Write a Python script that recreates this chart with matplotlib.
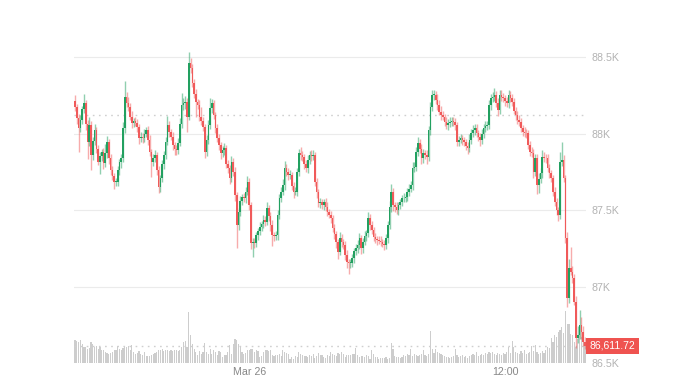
import numpy as np
import pandas as pd
import matplotlib
matplotlib.use("Agg")
import matplotlib.pyplot as plt
import matplotlib.transforms as mtransforms

# 5 minute candles, Mar 25 15:50 -> Mar 26 15:45
times = pd.date_range("2025-03-25 15:50", periods=288, freq="5min")

first_open = 88210
closes = [
    88175, 88100, 88036, 88090, 88160, 88200, 88060, 87946, 88056, 87860, 87950, 88023, 87900, 87816, 87850, 87881, 87805, 87870, 87946, 87838, 87760, 87720, 87685, 87685,
    87760, 87816, 87838, 88034, 88240, 88200, 88175, 88110, 88069, 88080, 88069, 88040, 87969, 87980, 87969, 88000, 88023, 87957, 87880, 87816, 87840, 87860, 87760, 87650,
    87709, 87800, 87860, 87946, 88056, 88010, 87980, 87925, 87900, 87892, 87940, 88060, 88186, 88200, 88208, 88110, 88459, 88426, 88330, 88260, 88208, 88186, 88110, 88080,
    88045, 87881, 87960, 88056, 88164, 88197, 88120, 88034, 87970, 87925, 87871, 87890, 87903, 87800, 87773, 87707, 87816, 87750, 87598, 87402, 87489, 87560, 87587, 87576,
    87620, 87685, 87533, 87282, 87290, 87282, 87337, 87360, 87391, 87410, 87435, 87424, 87511, 87460, 87402, 87337, 87330, 87337, 87467, 87580, 87620, 87663, 87773, 87750,
    87729, 87729, 87660, 87620, 87620, 87750, 87871, 87860, 87848, 87800, 87773, 87827, 87860, 87850, 87860, 87685, 87620, 87544, 87550, 87533, 87554, 87520, 87489, 87470,
    87446, 87380, 87340, 87293, 87228, 87315, 87290, 87271, 87206, 87160, 87152, 87152, 87184, 87230, 87250, 87271, 87315, 87250, 87293, 87330, 87347, 87446, 87400, 87369,
    87325, 87310, 87304, 87300, 87293, 87280, 87271, 87315, 87402, 87520, 87620, 87533, 87520, 87500, 87530, 87554, 87576, 87580, 87587, 87620, 87640, 87663, 87773, 87783,
    87880, 87936, 87900, 87838, 87871, 87860, 87848, 88023, 88175, 88252, 88252, 88220, 88186, 88143, 88120, 88110, 88077, 88056, 88070, 88077, 88080, 88077, 88056, 87946,
    87960, 87969, 87955, 87946, 87920, 87903, 87960, 88001, 88020, 88034, 88001, 87980, 87957, 88000, 88034, 88050, 88056, 88186, 88230, 88240, 88252, 88200, 88153, 88252,
    88240, 88230, 88210, 88197, 88252, 88230, 88208, 88150, 88121, 88090, 88077, 88034, 88012, 88005, 88001, 87925, 87880, 87871, 87750, 87838, 87663, 87700, 87740, 87848,
    87840, 87838, 87773, 87740, 87707, 87620, 87554, 87500, 87467, 87816, 87827, 87707, 87315, 86923, 87119, 87097, 87054, 86901, 86661, 86680, 86748, 86700, 86639, 86611.72,
]

# wick length above / below the body (USD)
up_wick = [
    40, 20, 25, 30, 20, 60, 20, 30, 50, 25, 30, 40, 20, 25, 30, 20, 25, 60, 35, 20, 25, 30, 20, 25,
    30, 20, 25, 40, 100, 30, 40, 25, 35, 20, 30, 25, 20, 30, 25, 30, 20, 25, 30, 20, 25, 30, 20, 25,
    20, 30, 25, 30, 60, 25, 20, 30, 20, 25, 30, 40, 80, 30, 40, 25, 75, 35, 30, 25, 30, 20, 30, 60,
    25, 20, 30, 35, 70, 30, 25, 20, 30, 25, 20, 30, 35, 25, 30, 20, 40, 25, 30, 20, 25, 30, 20, 25,
    30, 40, 25, 20, 25, 30, 20, 25, 30, 20, 35, 25, 40, 20, 25, 30, 20, 25, 30, 25, 30, 40, 50, 30,
    25, 30, 20, 25, 30, 25, 30, 40, 25, 20, 25, 30, 25, 35, 30, 20, 25, 20, 30, 25, 20, 25, 30, 20,
    25, 20, 30, 25, 20, 40, 25, 20, 25, 30, 20, 25, 30, 20, 25, 30, 35, 20, 25, 30, 25, 40, 25, 30,
    20, 25, 20, 25, 30, 20, 25, 30, 25, 40, 50, 25, 20, 30, 25, 20, 25, 30, 20, 25, 30, 25, 40, 30,
    30, 40, 25, 30, 25, 20, 30, 25, 30, 35, 30, 25, 35, 30, 40, 25, 20, 30, 25, 30, 25, 30, 25, 20,
    25, 30, 20, 25, 20, 25, 40, 30, 35, 30, 25, 20, 25, 30, 25, 30, 25, 30, 25, 30, 45, 25, 30, 35,
    30, 25, 20, 30, 35, 25, 30, 25, 20, 25, 30, 25, 20, 30, 25, 20, 25, 30, 25, 30, 25, 40, 35, 45,
    30, 25, 30, 25, 20, 25, 30, 25, 20, 60, 115, 30, 20, 40, 60, 140, 40, 30, 40, 60, 100, 50, 40, 30,
]
dn_wick = [
    30, 40, 160, 25, 30, 25, 40, 110, 30, 100, 30, 25, 30, 25, 80, 30, 40, 25, 30, 40, 30, 25, 50, 30,
    25, 30, 40, 25, 30, 25, 30, 25, 30, 25, 20, 30, 40, 25, 30, 25, 20, 30, 25, 100, 30, 25, 30, 40,
    30, 25, 30, 25, 20, 30, 25, 30, 40, 30, 25, 20, 25, 30, 40, 100, 25, 30, 25, 30, 100, 25, 30, 25,
    30, 40, 25, 30, 25, 30, 25, 30, 25, 30, 40, 25, 30, 25, 30, 40, 25, 30, 40, 150, 30, 25, 30, 25,
    30, 25, 30, 40, 90, 30, 25, 30, 25, 30, 25, 30, 25, 30, 40, 70, 30, 25, 30, 25, 30, 25, 30, 25,
    30, 25, 30, 40, 25, 30, 25, 30, 25, 30, 25, 30, 25, 30, 25, 30, 40, 25, 30, 25, 30, 25, 30, 25,
    30, 25, 30, 40, 50, 25, 30, 25, 30, 40, 70, 30, 25, 30, 25, 30, 25, 40, 30, 25, 30, 25, 30, 25,
    30, 25, 30, 25, 30, 25, 30, 25, 30, 25, 30, 40, 30, 25, 30, 25, 30, 25, 30, 25, 30, 25, 30, 25,
    30, 25, 30, 40, 30, 25, 50, 25, 30, 25, 30, 25, 30, 25, 30, 25, 30, 25, 30, 25, 30, 25, 30, 25,
    30, 25, 30, 25, 30, 40, 25, 30, 25, 30, 25, 30, 40, 25, 30, 25, 30, 25, 30, 25, 30, 25, 40, 25,
    30, 25, 30, 25, 30, 25, 30, 25, 30, 25, 30, 25, 30, 25, 30, 25, 30, 25, 40, 25, 60, 50, 25, 30,
    25, 30, 25, 30, 25, 30, 25, 30, 40, 25, 30, 25, 30, 60, 30, 25, 30, 25, 60, 30, 25, 40, 30, 20,
]

volume = [
    23, 22, 21, 23, 19, 16, 16, 14, 15, 21, 19, 16, 17, 14, 16, 13, 13, 11, 10, 9, 10, 11, 13, 13,
    17, 14, 13, 15, 17, 16, 17, 13, 18, 11, 9, 10, 12, 9, 8, 11, 7, 7, 7, 8, 9, 10, 11, 13,
    13, 14, 12, 13, 13, 12, 13, 12, 13, 13, 12, 13, 16, 21, 22, 16, 51, 28, 19, 14, 11, 8, 12, 9,
    11, 20, 11, 9, 14, 9, 13, 11, 8, 12, 11, 6, 8, 8, 11, 18, 9, 19, 24, 23, 19, 16, 11, 9,
    10, 13, 13, 14, 14, 11, 13, 12, 6, 7, 11, 13, 13, 12, 13, 8, 7, 8, 8, 9, 7, 13, 11, 10,
    9, 4, 6, 4, 7, 6, 11, 9, 8, 7, 7, 6, 8, 7, 9, 5, 7, 10, 8, 8, 6, 5, 8, 7,
    11, 9, 8, 7, 10, 9, 11, 9, 6, 8, 8, 8, 9, 9, 15, 8, 6, 7, 7, 6, 8, 7, 4, 13,
    9, 6, 6, 4, 5, 5, 5, 6, 4, 5, 20, 14, 7, 6, 6, 5, 6, 8, 7, 9, 8, 14, 7, 9,
    8, 7, 8, 9, 13, 8, 7, 9, 32, 14, 10, 14, 11, 10, 9, 8, 7, 6, 6, 5, 6, 7, 14, 8,
    6, 7, 8, 6, 7, 5, 7, 8, 9, 8, 11, 7, 8, 9, 8, 10, 9, 11, 10, 11, 9, 8, 10, 9,
    8, 10, 9, 11, 16, 10, 22, 16, 11, 10, 9, 12, 10, 13, 9, 10, 11, 17, 12, 18, 11, 9, 10, 12,
    10, 13, 16, 15, 25, 21, 28, 26, 31, 33, 36, 30, 52, 39, 39, 29, 28, 21, 16, 24, 33, 26, 22, 19,
]

prev_close = 88120
last_price = 86611.72
price_ticks = [86500, 87000, 87500, 88000, 88500]
price_labels = ["86.5K", "87K", "87.5K", "88K", "88.5K"]

assert len(closes) == len(up_wick) == len(dn_wick) == len(volume) == len(times)

plt.rcParams["font.family"] = ["Liberation Sans", "DejaVu Sans"]

closes = np.array(closes, dtype=float)
opens = np.concatenate([[first_open], closes[:-1]])
highs = np.maximum(opens, closes) + np.array(up_wick)
lows = np.minimum(opens, closes) - np.array(dn_wick)
x = np.arange(len(closes))
up = closes >= opens

green = "#22a060"
red = "#f05a5a"
cols = np.where(up, green, red)

fig = plt.figure(figsize=(6.88, 3.87), dpi=100)
ax = fig.add_axes([74 / 688, 24 / 387, 512 / 688, 343 / 387])
axv = ax.twinx()
ax.set_zorder(2)
axv.set_zorder(1)
ax.patch.set_visible(False)

# volume
axv.bar(x, volume, width=0.65, color="#cdcdcd", linewidth=0)
axv.set_ylim(0, 343)
axv.set_yticks([])
for s in axv.spines.values():
    s.set_visible(False)

# grid + reference lines
for p in price_ticks[1:]:
    ax.axhline(p, color="#ebebeb", lw=0.8, zorder=0)
ax.axhline(prev_close, color="#cfcfcf", lw=1, linestyle=(0, (1.2, 3.2)), zorder=0)
ax.axhline(last_price, color="#cfcfcf", lw=1, linestyle=(0, (1.2, 3.2)), zorder=1)

# candles
ax.vlines(x, lows, highs, colors=cols, lw=1, alpha=0.5, zorder=2)
body = np.maximum(np.abs(closes - opens), 5)
ax.bar(x, body, bottom=np.minimum(opens, closes), width=0.9, color=cols, linewidth=0, zorder=3)

ax.set_xlim(-0.6, len(x) - 0.4)
ax.set_ylim(86500, 86500 + 343 * 500 / 76.5)

ax.yaxis.tick_right()
ax.set_yticks(price_ticks)
ax.set_yticklabels(price_labels)
ax.tick_params(axis="y", length=0, pad=4, labelsize=7.7, labelcolor="#b3b3b3")

tick_pos = [i for i, t in enumerate(times) if t.minute == 0 and t.hour in (0, 12)]
tick_lab = ["Mar 26" if times[i].hour == 0 else "12:00" for i in tick_pos]
ax.set_xticks(tick_pos)
ax.set_xticklabels(tick_lab)
ax.tick_params(axis="x", length=0, pad=3, labelsize=7.7, labelcolor="#888888")

for s in ax.spines.values():
    s.set_visible(False)

trans = mtransforms.blended_transform_factory(ax.transAxes, ax.transData)
ax.text(1.0 + 3.5 / 512, last_price, "{:,.2f}".format(last_price), transform=trans,
        ha="left", va="center", color="white", fontsize=7.5, zorder=5,
        bbox=dict(boxstyle="square,pad=0.32", fc="#ef5350", ec="none"))

fig.savefig("out.png", dpi=100)
